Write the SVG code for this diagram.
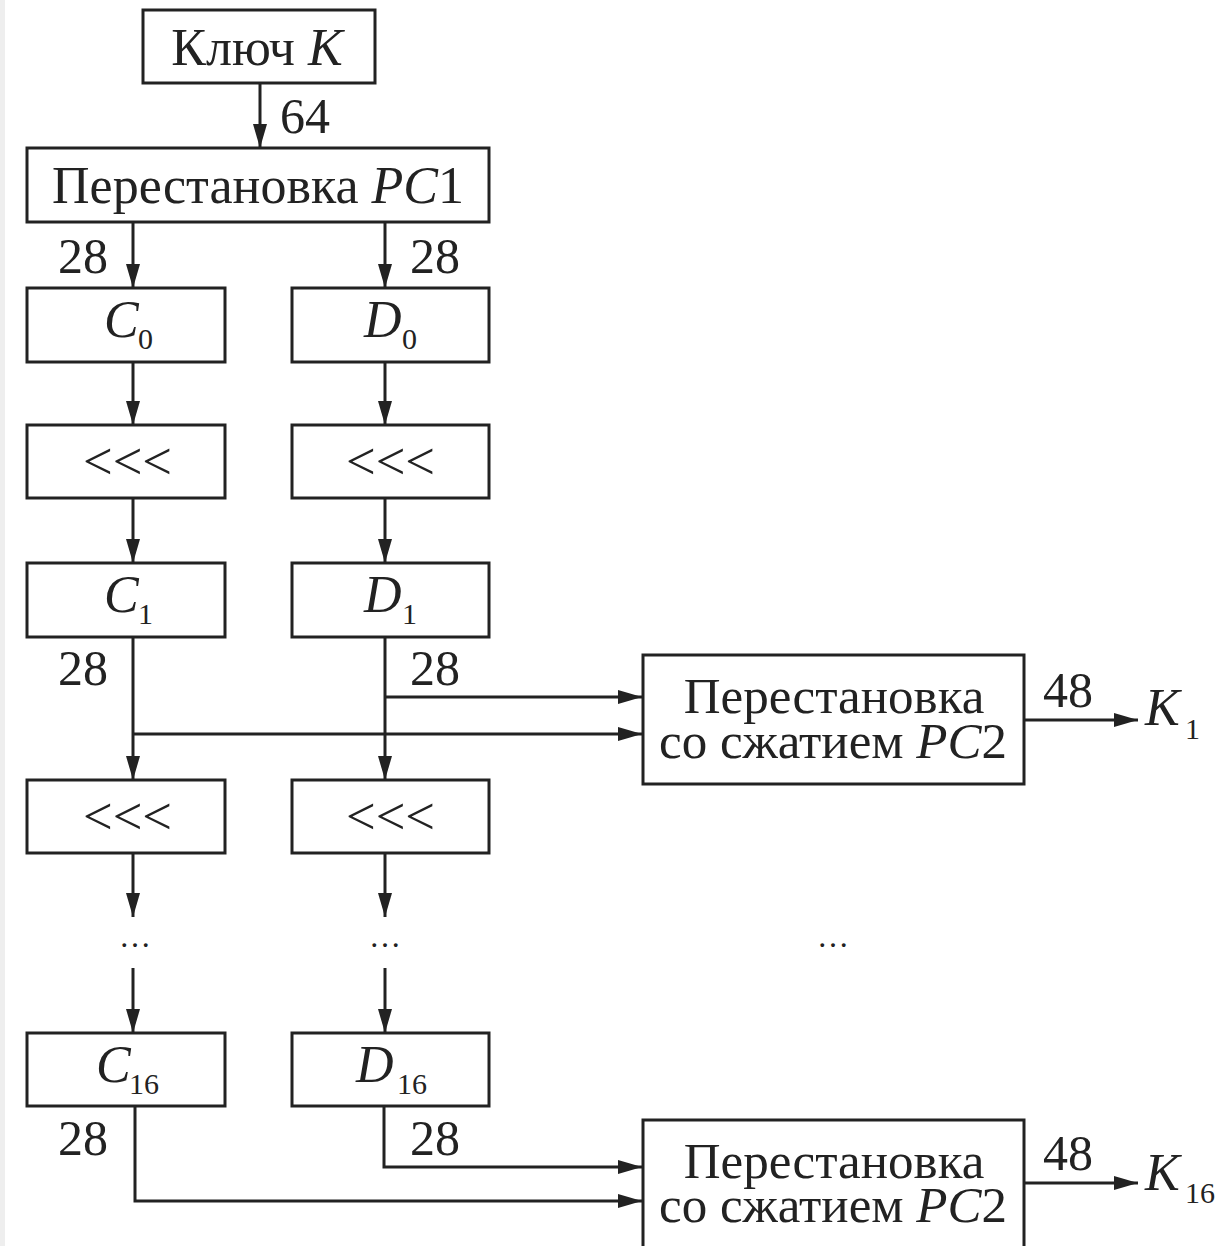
<svg xmlns="http://www.w3.org/2000/svg" width="1230" height="1246" viewBox="0 0 1230 1246">
<style>
.box{fill:#fff;stroke:#222;stroke-width:3}
.ln{fill:none;stroke:#222;stroke-width:3}
.t{font-family:"Liberation Serif","Times New Roman",serif;font-size:52px;fill:#222}
.p{font-family:"Liberation Serif","Times New Roman",serif;font-size:51px;fill:#222}
.n{font-family:"Liberation Serif","Times New Roman",serif;font-size:50px;fill:#222}
.s{font-family:"Liberation Serif","Times New Roman",serif;font-size:30px;fill:#222}
.e{font-family:"Liberation Serif","Times New Roman",serif;font-size:32px;fill:#222;text-anchor:middle}
.i{font-style:italic}
.m{text-anchor:middle}
</style>
<defs>
<marker id="ah" markerUnits="userSpaceOnUse" markerWidth="26" markerHeight="16" refX="24" refY="7" orient="auto">
<path d="M0,0 L24,7 L0,14 z" fill="#222"/>
</marker>
</defs>
<rect x="0" y="0" width="1230" height="1246" fill="#fff"/>
<rect x="0" y="0" width="5" height="1246" fill="#eeeeee"/>

<g id="connectors">
<line class="ln" x1="260" y1="83" x2="260" y2="148" marker-end="url(#ah)"/>
<line class="ln" x1="133" y1="222" x2="133" y2="288" marker-end="url(#ah)"/>
<line class="ln" x1="385" y1="222" x2="385" y2="288" marker-end="url(#ah)"/>
<line class="ln" x1="133" y1="362" x2="133" y2="425" marker-end="url(#ah)"/>
<line class="ln" x1="385" y1="362" x2="385" y2="425" marker-end="url(#ah)"/>
<line class="ln" x1="133" y1="498" x2="133" y2="563" marker-end="url(#ah)"/>
<line class="ln" x1="385" y1="498" x2="385" y2="563" marker-end="url(#ah)"/>
<line class="ln" x1="133" y1="637" x2="133" y2="780" marker-end="url(#ah)"/>
<line class="ln" x1="385" y1="637" x2="385" y2="780" marker-end="url(#ah)"/>
<line class="ln" x1="385" y1="697" x2="642" y2="697" marker-end="url(#ah)"/>
<line class="ln" x1="133" y1="734" x2="642" y2="734" marker-end="url(#ah)"/>
<line class="ln" x1="1024" y1="720" x2="1138" y2="720" marker-end="url(#ah)"/>
<line class="ln" x1="133" y1="853" x2="133" y2="917" marker-end="url(#ah)"/>
<line class="ln" x1="385" y1="853" x2="385" y2="917" marker-end="url(#ah)"/>
<line class="ln" x1="133" y1="968" x2="133" y2="1033" marker-end="url(#ah)"/>
<line class="ln" x1="385" y1="968" x2="385" y2="1033" marker-end="url(#ah)"/>
<polyline class="ln" points="384,1106 384,1167 642,1167" marker-end="url(#ah)"/>
<polyline class="ln" points="135,1106 135,1201 642,1201" marker-end="url(#ah)"/>
<line class="ln" x1="1024" y1="1183" x2="1138" y2="1183" marker-end="url(#ah)"/>
</g>

<g id="labels">
<text class="n" x="280" y="133">64</text>
<text class="n" x="58" y="273">28</text>
<text class="n" x="410" y="273">28</text>
<text class="n" x="58" y="685">28</text>
<text class="n" x="410" y="685">28</text>
<text class="n" x="58" y="1155">28</text>
<text class="n" x="410" y="1155">28</text>
<text class="n" x="1043" y="707">48</text>
<text class="n" x="1043" y="1170">48</text>
<text class="t i" x="1145" y="725">K</text>
<text class="s" x="1185" y="739">1</text>
<text class="t i" x="1145" y="1190">K</text>
<text class="s" x="1185" y="1203">16</text>
<text class="e" x="135" y="947">…</text>
<text class="e" x="385" y="947">…</text>
<text class="e" x="833" y="947">…</text>
</g>

<g id="key">
<rect class="box" x="143" y="10" width="232" height="73"/>
<text class="t m" x="257" y="65">Ключ <tspan class="i">K</tspan></text>
</g>
<g id="pc1">
<rect class="box" x="27" y="148" width="462" height="74"/>
<text class="t m" x="258" y="203">Перестановка <tspan class="i">PC</tspan>1</text>
</g>
<g id="c0">
<rect class="box" x="27" y="288" width="198" height="74"/>
<text class="t i" x="104" y="337">C</text><text class="s" x="138" y="349">0</text>
</g>
<g id="d0">
<rect class="box" x="292" y="288" width="197" height="74"/>
<text class="t i" x="364" y="337">D</text><text class="s" x="402" y="349">0</text>
</g>
<g id="shiftc1">
<rect class="box" x="27" y="425" width="198" height="73"/>
<text class="t" x="83" y="479" textLength="89" lengthAdjust="spacingAndGlyphs">&lt;&lt;&lt;</text>
</g>
<g id="shiftd1">
<rect class="box" x="292" y="425" width="197" height="73"/>
<text class="t" x="346" y="479" textLength="89" lengthAdjust="spacingAndGlyphs">&lt;&lt;&lt;</text>
</g>
<g id="c1">
<rect class="box" x="27" y="563" width="198" height="74"/>
<text class="t i" x="104" y="612">C</text><text class="s" x="138" y="624">1</text>
</g>
<g id="d1">
<rect class="box" x="292" y="563" width="197" height="74"/>
<text class="t i" x="364" y="612">D</text><text class="s" x="402" y="624">1</text>
</g>
<g id="pc2a">
<rect class="box" x="643" y="655" width="381" height="129"/>
<text class="p m" x="834" y="713">Перестановка</text>
<text class="p m" x="833" y="758">со сжатием <tspan class="i">PC</tspan>2</text>
</g>
<g id="shiftc2">
<rect class="box" x="27" y="780" width="198" height="73"/>
<text class="t" x="83" y="834" textLength="89" lengthAdjust="spacingAndGlyphs">&lt;&lt;&lt;</text>
</g>
<g id="shiftd2">
<rect class="box" x="292" y="780" width="197" height="73"/>
<text class="t" x="346" y="834" textLength="89" lengthAdjust="spacingAndGlyphs">&lt;&lt;&lt;</text>
</g>
<g id="c16">
<rect class="box" x="27" y="1033" width="198" height="73"/>
<text class="t i" x="96" y="1082">C</text><text class="s" x="129" y="1094">16</text>
</g>
<g id="d16">
<rect class="box" x="292" y="1033" width="197" height="73"/>
<text class="t i" x="356" y="1082">D</text><text class="s" x="397" y="1094">16</text>
</g>
<g id="pc2b">
<rect class="box" x="643" y="1120" width="381" height="140"/>
<text class="p m" x="834" y="1178">Перестановка</text>
<text class="p m" x="833" y="1222">со сжатием <tspan class="i">PC</tspan>2</text>
</g>
</svg>
